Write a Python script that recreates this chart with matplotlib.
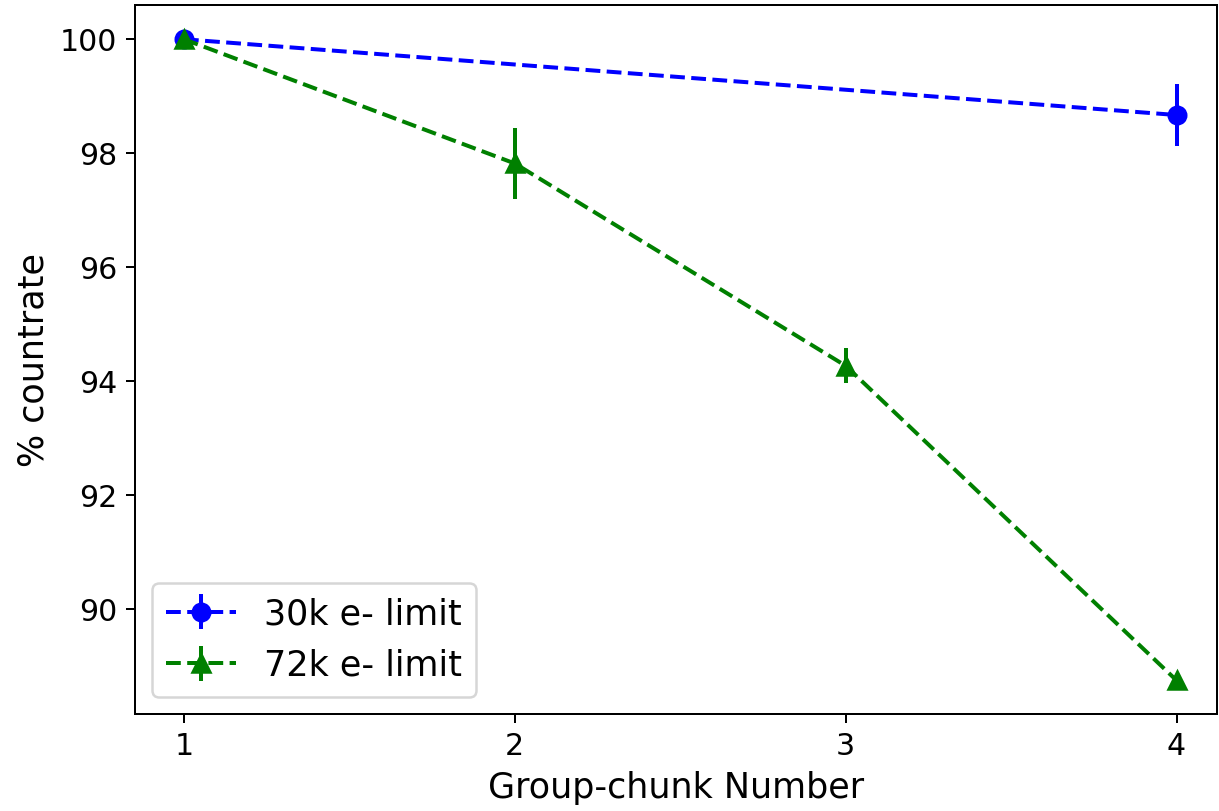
import numpy as np
import matplotlib.pyplot as plt

# count rate relative to the first group-chunk, in percent
chunks_30k = [1, 4]
rate_30k = [100.0, 98.67]
err_30k = [0.0, 0.54]

chunks_72k = [1, 2, 3, 4]
rate_72k = [100.0, 97.82, 94.27, 88.75]
err_72k = [0.0, 0.62, 0.31, 0.08]

fig = plt.figure(figsize=(1219/180, 811/180), dpi=180)
ax = fig.add_axes([0.1107, 0.1196, 0.8873, 0.8742])

ax.errorbar(chunks_30k, rate_30k, yerr=err_30k, fmt='b--o', ms=7, lw=1.6, label="30k e- limit")
ax.errorbar(chunks_72k, rate_72k, yerr=err_72k, fmt='g--^', ms=7, lw=1.6, label="72k e- limit")

ax.set_xlim(0.852, 4.121)
ax.set_ylim(88.16, 100.6)
ax.set_xticks([1, 2, 3, 4])
ax.tick_params(labelsize=12)
ax.set_xlabel("Group-chunk Number", fontsize=14)
ax.set_ylabel("% countrate", fontsize=14)
ax.legend(loc="lower left", fontsize=14)

fig.savefig("out.png", dpi=180)
